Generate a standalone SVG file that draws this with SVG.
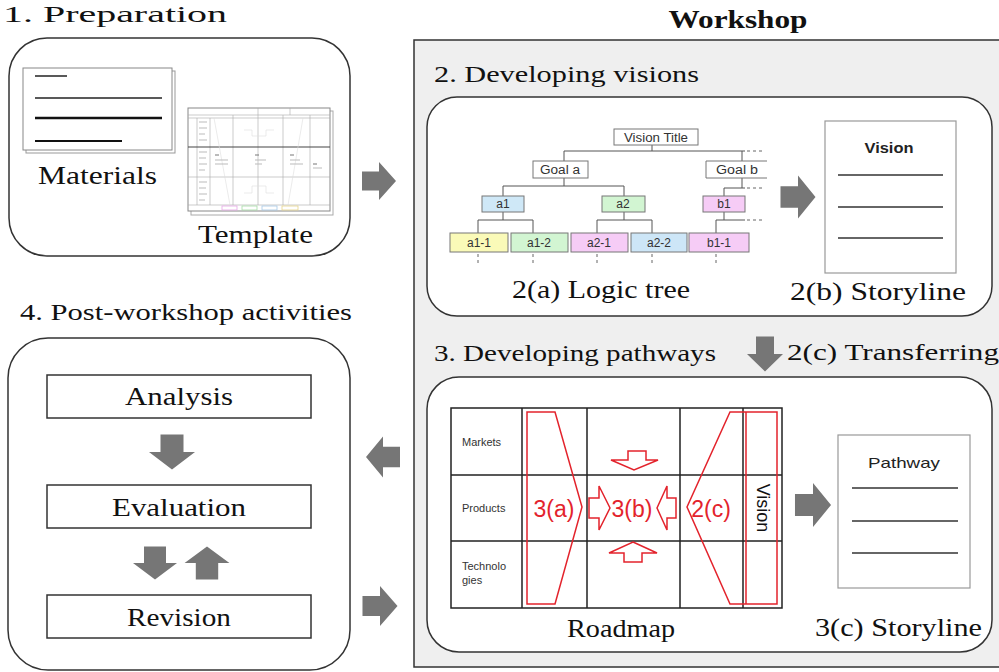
<svg xmlns="http://www.w3.org/2000/svg" width="999" height="672" viewBox="0 0 999 672">
  <style>
    .serif { font-family: "Liberation Serif", "DejaVu Serif", serif; fill: #111; }
    .h { font-size: 24px; }
    .lbl { font-size: 25px; }
    .sans { font-family: "Liberation Sans", Arial, sans-serif; }
    .panel { fill: #fff; stroke: #333; stroke-width: 1.5; }
    .gray-arrow { fill: #767676; }
    .tbox { stroke: #777; stroke-width: 1; }
    .tlink { fill: none; stroke: #555; stroke-width: 1; }
    .tdash { fill: none; stroke: #666; stroke-width: 1; stroke-dasharray: 3 3; }
    .ttext { font-family: "Liberation Sans", Arial, sans-serif; font-size: 12px; fill: #333; text-anchor: middle; }
    .grid { fill: none; stroke: #222; stroke-width: 1.5; }
    .red { fill: none; stroke: #e3232c; stroke-width: 1.5; }
    .redfill { fill: #fff; stroke: #e3232c; stroke-width: 1.5; }
    .redtext { font-family: "Liberation Sans", Arial, sans-serif; font-size: 23px; fill: #e3232c; text-anchor: middle; }
    .doc { fill: #fff; stroke: #999; stroke-width: 1.2; }
    .docline { stroke: #333; stroke-width: 1.5; }
    .tpl { fill: none; stroke: #aaa; stroke-width: 0.6; }
    .tpltxt { stroke: #bbb; stroke-width: 1; }
  </style>
  <defs>
    <path id="ga" d="M-17,-10 H0 V-20 L17,0 L0,20 V10 H-17 Z"/>
  </defs>

  <rect width="999" height="672" fill="#fff"/>

  <!-- Workshop container -->
  <g id="workshop">
    <rect x="414" y="40" width="600" height="627" fill="#efefef" stroke="#333" stroke-width="1.5"/>
    <text class="serif" x="738" y="28" font-size="26" font-weight="bold" text-anchor="middle" textLength="139" lengthAdjust="spacingAndGlyphs">Workshop</text>
  </g>

  <!-- 1. Preparation -->
  <g id="preparation">
    <text class="serif h" x="3" y="22" textLength="224" lengthAdjust="spacingAndGlyphs">1. Preparation</text>
    <rect class="panel" x="9" y="38" width="341" height="218" rx="38"/>
    <!-- materials sheet -->
    <rect x="26" y="71" width="149" height="82" fill="#fff" stroke="#999" stroke-width="1"/>
    <rect x="23" y="68" width="149" height="82" fill="#fff" stroke="#888" stroke-width="1"/>
    <line x1="35" y1="76" x2="67" y2="76" stroke="#222" stroke-width="1.5"/>
    <line x1="35" y1="98" x2="162" y2="98" stroke="#222" stroke-width="1.5"/>
    <line x1="35" y1="118" x2="162" y2="118" stroke="#111" stroke-width="2.5"/>
    <line x1="35" y1="141" x2="122" y2="141" stroke="#111" stroke-width="2"/>
    <text class="serif lbl" x="38" y="184" textLength="119" lengthAdjust="spacingAndGlyphs">Materials</text>
    <!-- template sheet -->
    <rect x="191" y="111" width="142" height="104" fill="#fff" stroke="#aaa" stroke-width="1"/>
    <rect x="188" y="108" width="142" height="103" fill="#fff" stroke="#888" stroke-width="1"/>
    <line class="tpl" x1="188" y1="115" x2="330" y2="115"/>
    <line class="tpl" x1="188" y1="118" x2="330" y2="118"/>
    <line class="tpl" x1="258" y1="108" x2="258" y2="115"/>
    <line class="tpl" x1="290" y1="108" x2="290" y2="115"/>
    <line class="tpl" x1="197" y1="118" x2="197" y2="205"/>
    <line class="tpl" x1="210" y1="118" x2="210" y2="205"/>
    <line class="tpl" x1="233" y1="115" x2="233" y2="205"/>
    <line class="tpl" x1="258" y1="115" x2="258" y2="205"/>
    <line class="tpl" x1="283" y1="115" x2="283" y2="205"/>
    <line class="tpl" x1="310" y1="115" x2="310" y2="205"/>
    <line x1="188" y1="147" x2="330" y2="147" stroke="#444" stroke-width="1.2"/>
    <line class="tpl" x1="188" y1="177" x2="330" y2="177"/>
    <line class="tpl" x1="188" y1="205" x2="330" y2="205"/>
    <line x1="214" y1="118" x2="230" y2="205" stroke="#ddd" stroke-width="0.6"/>
    <line x1="303" y1="118" x2="288" y2="205" stroke="#ddd" stroke-width="0.6"/>
    <path d="M244,130 H252 V136 H266 V130 H274" fill="none" stroke="#ddd" stroke-width="0.6"/>
    <path d="M244,193 H252 V186 H266 V193 H274" fill="none" stroke="#ddd" stroke-width="0.6"/>
    <g class="tpltxt">
      <line x1="199" y1="122" x2="207" y2="122"/><line x1="199" y1="128" x2="207" y2="128"/>
      <line x1="199" y1="134" x2="205" y2="134"/><line x1="199" y1="140" x2="207" y2="140"/>
      <line x1="199" y1="152" x2="207" y2="152"/><line x1="199" y1="158" x2="206" y2="158"/>
      <line x1="199" y1="164" x2="207" y2="164"/><line x1="199" y1="170" x2="205" y2="170"/>
      <line x1="199" y1="182" x2="207" y2="182"/><line x1="199" y1="188" x2="206" y2="188"/>
      <line x1="199" y1="194" x2="207" y2="194"/><line x1="199" y1="200" x2="205" y2="200"/>
      <line x1="215" y1="155" x2="219" y2="155" stroke="#777"/><line x1="215" y1="160" x2="228" y2="160"/><line x1="215" y1="164" x2="228" y2="164"/>
      <line x1="255" y1="155" x2="259" y2="155" stroke="#777"/><line x1="255" y1="160" x2="266" y2="160"/><line x1="255" y1="164" x2="262" y2="164"/>
      <line x1="290" y1="155" x2="294" y2="155" stroke="#777"/><line x1="290" y1="160" x2="300" y2="160"/><line x1="290" y1="164" x2="303" y2="164"/>
      <line x1="313" y1="164" x2="317" y2="164" stroke="#777"/><line x1="313" y1="168" x2="322" y2="168"/>
    </g>
    <rect x="222" y="206" width="15" height="4" fill="#fff" stroke="#e7a6e7" stroke-width="0.8"/>
    <rect x="242" y="206" width="15" height="4" fill="#fff" stroke="#a6dca6" stroke-width="0.8"/>
    <rect x="262" y="206" width="15" height="4" fill="#fff" stroke="#a6c8e6" stroke-width="0.8"/>
    <rect x="282" y="206" width="16" height="4" fill="#fff" stroke="#e6d48a" stroke-width="0.8"/>
    <text class="serif lbl" x="198" y="243" textLength="115" lengthAdjust="spacingAndGlyphs">Template</text>
  </g>

  <!-- 2. Developing visions -->
  <g id="developing-visions">
    <text class="serif h" x="434" y="82" textLength="265" lengthAdjust="spacingAndGlyphs">2. Developing visions</text>
    <rect class="panel" x="427" y="97" width="565" height="219" rx="30"/>
  </g>

  <!-- 2(a) logic tree -->
  <g id="logic-tree">
    <g class="tlink">
      <path d="M652,145 V151 M564,151 H745 M564,151 V161 M742,151 V161"/>
      <path d="M564,178 V186 M503,186 H624 M503,186 V196 M624,186 V196"/>
      <path d="M742,178 V188 M724,188 H745 M724,188 V196"/>
      <path d="M503,212 V220 M478,220 H533 M478,220 V233 M533,220 V233"/>
      <path d="M624,212 V220 M597,220 H652 M597,220 V233 M652,220 V233"/>
      <path d="M724,212 V220 M716,220 H745 M716,220 V233"/>
    </g>
    <g class="tdash">
      <path d="M747,151 H762 M747,188 H762 M747,220 H762"/>
      <path d="M478,254 V264 M533,254 V264 M597,254 V264 M652,254 V264 M716,254 V264"/>
    </g>
    <rect class="tbox" x="614" y="129" width="84" height="16" fill="#fff"/>
    <text class="ttext" x="656" y="142" textLength="64" lengthAdjust="spacingAndGlyphs">Vision Title</text>
    <rect class="tbox" x="533" y="161" width="55" height="17" fill="#fff"/>
    <text class="ttext" x="560" y="174" textLength="40" lengthAdjust="spacingAndGlyphs">Goal a</text>
    <path d="M767,161 H706 V178 H767" class="tbox" fill="#fff"/>
    <text class="ttext" x="737" y="174" textLength="42" lengthAdjust="spacingAndGlyphs">Goal b</text>
    <rect class="tbox" x="482" y="196" width="42" height="16" fill="#cfe8f7"/>
    <text class="ttext" x="503" y="208">a1</text>
    <rect class="tbox" x="602" y="196" width="43" height="16" fill="#d2f5d2"/>
    <text class="ttext" x="623" y="208">a2</text>
    <rect class="tbox" x="703" y="196" width="42" height="16" fill="#f6ccf6"/>
    <text class="ttext" x="724" y="208">b1</text>
    <rect class="tbox" x="450" y="233" width="58" height="19" fill="#fafab8"/>
    <text class="ttext" x="479" y="247">a1-1</text>
    <rect class="tbox" x="511" y="233" width="57" height="19" fill="#d2f5d2"/>
    <text class="ttext" x="539" y="247">a1-2</text>
    <rect class="tbox" x="571" y="233" width="57" height="19" fill="#f6ccf6"/>
    <text class="ttext" x="599" y="247">a2-1</text>
    <rect class="tbox" x="631" y="233" width="56" height="19" fill="#cde6f7"/>
    <text class="ttext" x="659" y="247">a2-2</text>
    <rect class="tbox" x="689" y="233" width="60" height="19" fill="#f6ccf6"/>
    <text class="ttext" x="719" y="247">b1-1</text>
    <text class="serif lbl" x="512" y="298" textLength="178" lengthAdjust="spacingAndGlyphs">2(a) Logic tree</text>
  </g>

  <!-- 2(b) storyline -->
  <g id="vision-storyline">
    <rect class="doc" x="825" y="121" width="131" height="152"/>
    <text class="sans" x="889" y="153" font-size="15" font-weight="bold" fill="#222" text-anchor="middle" textLength="49" lengthAdjust="spacingAndGlyphs">Vision</text>
    <line class="docline" x1="838" y1="175" x2="943" y2="175" stroke-width="2"/>
    <line class="docline" x1="838" y1="207" x2="943" y2="207"/>
    <line class="docline" x1="838" y1="238" x2="943" y2="238"/>
    <text class="serif lbl" x="790" y="300" textLength="176" lengthAdjust="spacingAndGlyphs">2(b) Storyline</text>
  </g>

  <!-- 3. Developing pathways -->
  <g id="developing-pathways">
    <text class="serif h" x="434" y="361" textLength="282" lengthAdjust="spacingAndGlyphs">3. Developing pathways</text>
    <text class="serif h" x="787" y="360" textLength="212" lengthAdjust="spacingAndGlyphs">2(c) Transferring</text>
    <rect class="panel" x="427" y="377" width="565" height="275" rx="32"/>
  </g>

  <!-- Roadmap -->
  <g id="roadmap">
    <rect x="451" y="408" width="331" height="200" fill="#fff"/>
    <g class="grid">
      <rect x="451" y="408" width="331" height="200"/>
      <path d="M451,475 H782 M451,541 H782 M522,408 V608 M587,408 V608 M680,408 V608 M743,408 V608"/>
    </g>
    <g class="sans" font-size="11" fill="#333">
      <text x="462" y="446">Markets</text>
      <text x="462" y="512">Products</text>
      <text x="462" y="570">Technolo</text>
      <text x="462" y="584">gies</text>
    </g>
    <polygon class="red" points="527,412 555,412 582,507 555,604 527,604"/>
    <polygon class="red" points="730,412 777,412 777,604 730,604 687,507"/>
    <line class="red" x1="746" y1="412" x2="746" y2="604"/>
    <path class="redfill" d="M628,451 H646 V460 H658 L634,470 L611,460 H628 Z"/>
    <path class="redfill" d="M633,542 L657,553 H642 V562 H624 V553 H609 Z"/>
    <path class="redfill" d="M589,498 H599 V486 L610,508 L599,530 V518 H589 Z"/>
    <path class="redfill" d="M676,498 H667 V486 L657,508 L667,530 V518 H676 Z"/>
    <text class="redtext" x="554" y="517">3(a)</text>
    <text class="redtext" x="632" y="517">3(b)</text>
    <text class="redtext" x="711" y="517">2(c)</text>
    <text class="sans" x="763" y="508" font-size="18" fill="#111" text-anchor="middle" dominant-baseline="central" transform="rotate(90 763 508)">Vision</text>
    <text class="serif lbl" x="567" y="637" textLength="108" lengthAdjust="spacingAndGlyphs">Roadmap</text>
  </g>

  <!-- 3(c) storyline -->
  <g id="pathway-storyline">
    <rect class="doc" x="838" y="435" width="132" height="153"/>
    <text class="sans" x="904" y="468" font-size="15" fill="#222" text-anchor="middle" textLength="72" lengthAdjust="spacingAndGlyphs">Pathway</text>
    <line class="docline" x1="852" y1="488" x2="958" y2="488"/>
    <line class="docline" x1="852" y1="521" x2="958" y2="521"/>
    <line class="docline" x1="852" y1="553" x2="958" y2="553"/>
    <text class="serif lbl" x="815" y="636" textLength="167" lengthAdjust="spacingAndGlyphs">3(c) Storyline</text>
  </g>

  <!-- 4. Post-workshop activities -->
  <g id="post-workshop">
    <text class="serif h" x="20" y="320" textLength="332" lengthAdjust="spacingAndGlyphs">4. Post-workshop activities</text>
    <rect class="panel" x="8" y="338" width="342" height="332" rx="40"/>
  </g>
  <g id="analysis">
    <rect x="47" y="375" width="264" height="43" fill="#fff" stroke="#333" stroke-width="1.5"/>
    <text class="serif lbl" x="179" y="405" text-anchor="middle" textLength="108" lengthAdjust="spacingAndGlyphs">Analysis</text>
  </g>
  <g id="evaluation">
    <rect x="47" y="485" width="264" height="43" fill="#fff" stroke="#333" stroke-width="1.5"/>
    <text class="serif lbl" x="179" y="516" text-anchor="middle" textLength="134" lengthAdjust="spacingAndGlyphs">Evaluation</text>
  </g>
  <g id="revision">
    <rect x="47" y="595" width="264" height="43" fill="#fff" stroke="#333" stroke-width="1.5"/>
    <text class="serif lbl" x="179" y="626" text-anchor="middle" textLength="104" lengthAdjust="spacingAndGlyphs">Revision</text>
  </g>

  <!-- Connectors: block arrows -->
  <g id="connectors" class="gray-arrow">
    <use href="#ga" transform="translate(379,181) scale(1,0.95)"/>
    <use href="#ga" transform="translate(798,197) scale(1.03,1.08)"/>
    <use href="#ga" transform="translate(765,354) rotate(90) scale(1.03,0.9)"/>
    <use href="#ga" transform="translate(813,505) scale(1.06,1.1)"/>
    <use href="#ga" transform="translate(383,457) rotate(180) scale(1,1.02)"/>
    <use href="#ga" transform="translate(380,606) scale(1.03,1)"/>
    <use href="#ga" transform="translate(172,452) rotate(90) scale(1.03,1.15)"/>
    <use href="#ga" transform="translate(155,563) rotate(90) scale(0.97,1.1)"/>
    <use href="#ga" transform="translate(207,563) rotate(-90) scale(0.97,1.12)"/>
  </g>
</svg>
